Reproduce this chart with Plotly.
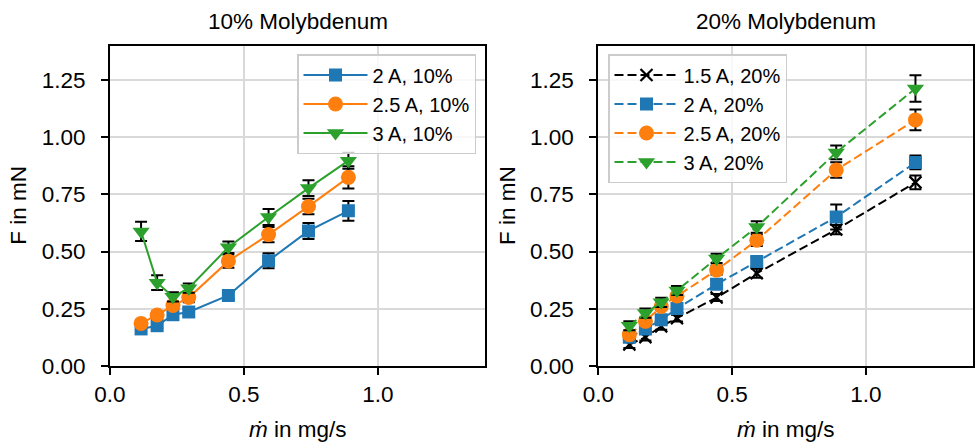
import plotly.graph_objects as go

# ---------------- data ----------------
mdot_10 = [0.116, 0.176, 0.235, 0.294, 0.442, 0.592, 0.741, 0.890]
f_2A_10 = [0.162, 0.176, 0.224, 0.236, 0.308, 0.460, 0.590, 0.678]
e_2A_10 = [0.010, 0.010, 0.015, 0.015, 0.015, 0.033, 0.035, 0.043]
f_25A_10 = [0.186, 0.223, 0.264, 0.299, 0.458, 0.574, 0.697, 0.824]
e_25A_10 = [0.010, 0.015, 0.015, 0.020, 0.029, 0.033, 0.034, 0.049]
f_3A_10 = [0.588, 0.364, 0.302, 0.340, 0.519, 0.651, 0.777, 0.897]
e_3A_10 = [0.042, 0.032, 0.020, 0.020, 0.025, 0.035, 0.034, 0.035]

mdot_20 = [0.116, 0.176, 0.235, 0.294, 0.442, 0.592, 0.889, 1.185]
f_15A_20 = [0.094, 0.126, 0.173, 0.209, 0.299, 0.405, 0.596, 0.802]
e_15A_20 = [0.015, 0.015, 0.015, 0.015, 0.015, 0.020, 0.020, 0.030]
f_2A_20 = [0.126, 0.162, 0.202, 0.251, 0.357, 0.456, 0.651, 0.889]
e_2A_20 = [0.015, 0.015, 0.015, 0.015, 0.020, 0.020, 0.055, 0.030]
f_25A_20 = [0.137, 0.195, 0.260, 0.306, 0.419, 0.549, 0.856, 1.075]
e_25A_20 = [0.015, 0.015, 0.015, 0.015, 0.020, 0.025, 0.034, 0.045]
f_3A_20 = [0.176, 0.231, 0.278, 0.330, 0.470, 0.607, 0.933, 1.212]
e_3A_20 = [0.020, 0.020, 0.020, 0.020, 0.020, 0.025, 0.030, 0.058]

x_ticks = [0.0, 0.5, 1.0]
y_ticks = [0.0, 0.25, 0.5, 0.75, 1.0, 1.25]
panel_titles = ["10% Molybdenum", "20% Molybdenum"]

BLUE, ORANGE, GREEN, BLACK = "#1f77b4", "#ff7f0e", "#2ca02c", "#000000"
FONT = "Liberation Sans, Arial, sans-serif"
FS = 22.5

fig = go.Figure()


def add(x, y, e, name, color, symbol, size, xa, ya, legend, dash):
    mk = dict(color=color, symbol=symbol, size=size, line=dict(width=0))
    if symbol == "x-thin":
        mk["line"] = dict(width=2.2, color=color)
    fig.add_trace(go.Scatter(
        x=x, y=y, name=name, mode="lines+markers",
        line=dict(color=color, width=2, dash=dash),
        marker=mk,
        error_y=dict(type="data", array=e, visible=True, color="black",
                     thickness=2, width=6),
        xaxis=xa, yaxis=ya, legend=legend,
    ))


add(mdot_10, f_2A_10, e_2A_10, "2 A, 10%", BLUE, "square", 13, "x", "y", "legend", "solid")
add(mdot_10, f_25A_10, e_25A_10, "2.5 A, 10%", ORANGE, "circle", 15, "x", "y", "legend", "solid")
add(mdot_10, f_3A_10, e_3A_10, "3 A, 10%", GREEN, "triangle-down", 15, "x", "y", "legend", "solid")

DASH = "9px,4px"
add(mdot_20, f_15A_20, e_15A_20, "1.5 A, 20%", BLACK, "x-thin", 12, "x2", "y2", "legend2", DASH)
add(mdot_20, f_2A_20, e_2A_20, "2 A, 20%", BLUE, "square", 13, "x2", "y2", "legend2", DASH)
add(mdot_20, f_25A_20, e_25A_20, "2.5 A, 20%", ORANGE, "circle", 15, "x2", "y2", "legend2", DASH)
add(mdot_20, f_3A_20, e_3A_20, "3 A, 20%", GREEN, "triangle-down", 15, "x2", "y2", "legend2", DASH)

W, H = 976, 446
ydom = [1 - 366 / H, 1 - 45.5 / H]
xdom1 = [110 / W, 485 / W]
xdom2 = [598.3 / W, 973 / W]

axis_common = dict(
    showline=True, linecolor="black", linewidth=2, mirror=True,
    ticks="outside", ticklen=7, tickwidth=2, tickcolor="black",
    showgrid=True, gridcolor="#d9d9d9", gridwidth=1.5, zeroline=False,
    tickfont=dict(family=FONT, size=FS, color="black"),
    automargin=False,
)
xa = dict(axis_common, range=[0, 1.4], tickvals=x_ticks, tickformat=".1f", ticklabelstandoff=0)
ya = dict(axis_common, range=[0, 1.4], tickvals=y_ticks, tickformat=".2f", ticklabelstandoff=11)

legend_common = dict(
    bgcolor="rgba(255,255,255,0.8)", bordercolor="#cccccc", borderwidth=1.5,
    font=dict(family=FONT, size=20, color="black"),
    xanchor="left", yanchor="top", tracegroupgap=0, itemwidth=64,
)

fig.update_layout(
    width=W, height=H, margin=dict(l=0, r=0, t=0, b=0, autoexpand=False),
    paper_bgcolor="white", plot_bgcolor="white",
    font=dict(family=FONT, size=FS, color="black"),
    xaxis=dict(xa, domain=xdom1, anchor="y"),
    yaxis=dict(ya, domain=ydom, anchor="x"),
    xaxis2=dict(xa, domain=xdom2, anchor="y2"),
    yaxis2=dict(ya, domain=ydom, anchor="x2"),
    legend=dict(legend_common, x=297 / W, y=1 - 54 / H),
    legend2=dict(legend_common, x=608 / W, y=1 - 54 / H),
)

annotations = []
for i, (dom, t) in enumerate(zip([xdom1, xdom2], panel_titles)):
    cx = (dom[0] + dom[1]) / 2
    annotations.append(dict(text=t, x=cx, y=1 - 21 / H, xref="paper", yref="paper",
                            showarrow=False, font=dict(size=FS), xanchor="center", yanchor="middle"))
    annotations.append(dict(text="<i>ṁ</i> in mg/s", x=cx, y=1 - 429 / H, xref="paper", yref="paper",
                            showarrow=False, font=dict(size=FS), xanchor="center", yanchor="middle"))
    annotations.append(dict(text="F in mN", x=(dom[0] * W - 91) / W, y=(ydom[0] + ydom[1]) / 2,
                            xref="paper", yref="paper", textangle=-90,
                            showarrow=False, font=dict(size=FS), xanchor="center", yanchor="middle"))
fig.update_layout(annotations=annotations)

fig.write_html("out.html", config={"displayModeBar": False},
               post_script="document.body.style.margin='0px';document.body.style.overflow='hidden';")
